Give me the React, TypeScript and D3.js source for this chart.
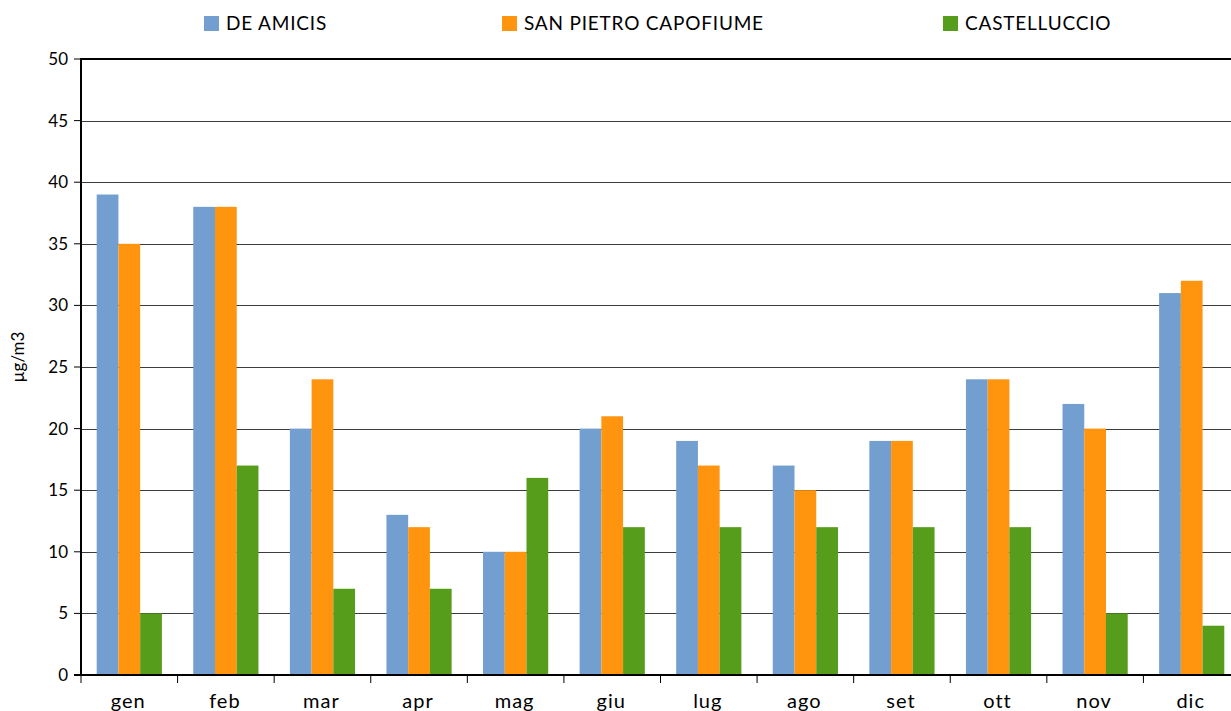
import React from "react";
import * as d3 from "d3";

const months = ["gen", "feb", "mar", "apr", "mag", "giu", "lug", "ago", "set", "ott", "nov", "dic"];
const seriesNames = ["DE AMICIS", "SAN PIETRO CAPOFIUME", "CASTELLUCCIO"];
const seriesColors = ["#729fcf", "#ff950e", "#579d1c"];
const deAmicis = [39, 38, 20, 13, 10, 20, 19, 17, 19, 24, 22, 31];
const sanPietro = [35, 38, 24, 12, 10, 21, 17, 15, 19, 24, 20, 32];
const castelluccio = [5, 17, 7, 7, 16, 12, 12, 12, 12, 12, 5, 4];
const yTicks = [0, 5, 10, 15, 20, 25, 30, 35, 40, 45, 50];
const legendX = [204, 502, 943];

const W = 1231;
const H = 711;
const left = 81;
const right = 1240;
const top = 59;
const bottom = 675;
const font = "Lato, 'Open Sans', sans-serif";

export default function App() {
  const series = [deAmicis, sanPietro, castelluccio];
  const x0 = d3.scaleBand<string>().domain(months).range([left, right]).padding(0);
  const bw = x0.bandwidth();
  const x1 = d3
    .scaleBand<number>()
    .domain([0, 1, 2])
    .range([bw * 0.1625, bw * 0.8375])
    .padding(0);
  const y = d3.scaleLinear().domain([0, 50]).range([bottom, top]);

  return (
    <svg width={W} height={H} style={{ position: "absolute", left: 0, top: 0, background: "#fff" }}>
      {/* gridlines */}
      {yTicks.slice(1, -1).map((t) => (
        <line key={t} x1={left} x2={W} y1={Math.round(y(t)) + 0.5} y2={Math.round(y(t)) + 0.5} stroke="#3c3c3c" strokeWidth={1} />
      ))}
      <line x1={left} x2={W} y1={y(50)} y2={y(50)} stroke="#000" strokeWidth={2} />
      {/* bars */}
      {months.map((m, i) => (
        <g key={m}>
          {series.map((s, j) => (
            <rect
              key={j}
              x={(x0(m) as number) + (x1(j) as number)}
              y={y(s[i])}
              width={x1.bandwidth()}
              height={y(0) - y(s[i])}
              fill={seriesColors[j]}
            />
          ))}
        </g>
      ))}
      {/* y axis */}
      <line x1={left} x2={left} y1={top - 1} y2={bottom + 1} stroke="#000" strokeWidth={2} />
      {yTicks.map((t) => (
        <g key={t}>
          <line x1={left - 7} x2={left} y1={y(t)} y2={y(t)} stroke="#000" strokeWidth={1} />
          <text x={68} y={y(t)} dy="0.35em" textAnchor="end" fontSize={17} fontFamily={font} fill="#000">
            {t}
          </text>
        </g>
      ))}
      {/* x axis */}
      <line x1={left - 7} x2={W} y1={bottom} y2={bottom} stroke="#000" strokeWidth={2} />
      {months.map((m) => (
        <line key={"t" + m} x1={(x0(m) as number)} x2={(x0(m) as number)} y1={bottom} y2={bottom + 8} stroke="#000" strokeWidth={1} />
      ))}
      {months.map((m) => (
        <text
          key={"l" + m}
          x={(x0(m) as number) + bw / 2 - 1}
          y={708}
          textAnchor="middle"
          fontSize={20}
          letterSpacing={1}
          fontFamily={font}
          fill="#000"
        >
          {m}
        </text>
      ))}
      {/* y title */}
      <text
        transform={`translate(24,${357}) rotate(-90)`}
        textAnchor="middle"
        fontSize={17}
        fontFamily={font}
        fill="#000"
      >
        µg/m3
      </text>
      {/* legend */}
      {seriesNames.map((n, j) => (
        <g key={n}>
          <rect x={legendX[j]} y={16} width={15} height={15} fill={seriesColors[j]} />
          <text x={legendX[j] + 22} y={30} fontSize={19} letterSpacing={0.8} fontFamily={font} fill="#000">
            {n}
          </text>
        </g>
      ))}
    </svg>
  );
}
